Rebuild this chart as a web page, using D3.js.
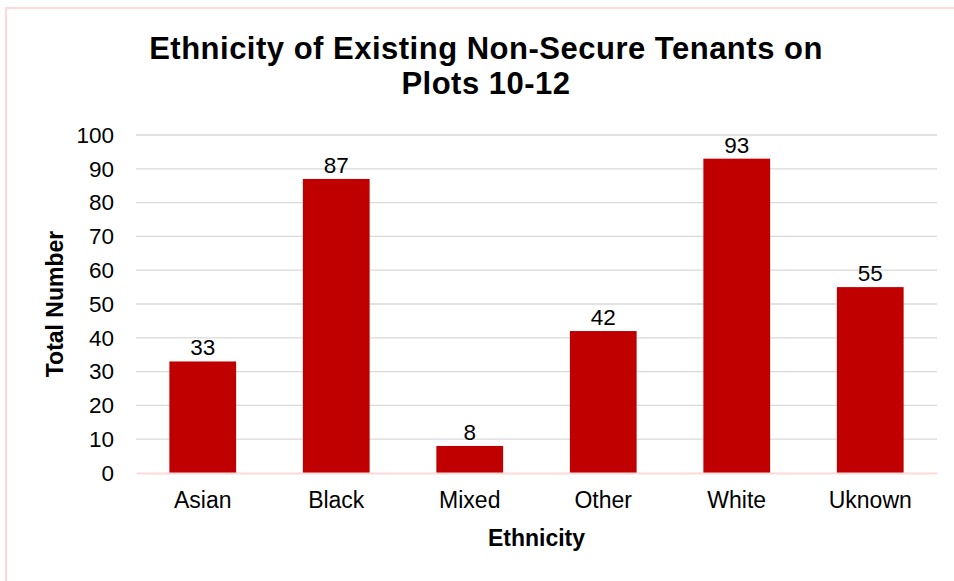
<!DOCTYPE html>
<html>
<head>
<meta charset="utf-8">
<script src="https://cdn.jsdelivr.net/npm/d3@7"></script>
<style>
  html, body { margin: 0; padding: 0; background: #fff; }
  svg { display: block; font-family: Arial, "Liberation Sans", sans-serif; }
</style>
</head>
<body>
<svg id="chart" width="954" height="581"></svg>
<script>
// Tenant counts by ethnicity
const categories = ["Asian", "Black", "Mixed", "Other", "White", "Uknown"];
const values = [33, 87, 8, 42, 93, 55];
const yTicks = [0, 10, 20, 30, 40, 50, 60, 70, 80, 90, 100];
const titleLines = ["Ethnicity of Existing Non-Secure Tenants on", "Plots 10-12"];

const svg = d3.select("#chart");
const W = 954, H = 581;
const margin = { left: 136, right: 17, top: 135, bottom: 108 };
const FONT = "Arial, 'Liberation Sans', sans-serif";

// Chart frame
svg.append("rect")
  .attr("x", 6).attr("y", 8)
  .attr("width", W + 20).attr("height", H + 20)
  .attr("fill", "#fff")
  .attr("stroke", "#ffd9d9").attr("stroke-width", 2);

const x = d3.scaleBand()
  .domain(categories)
  .range([margin.left, W - margin.right])
  .paddingInner(0.5).paddingOuter(0.25);

const y = d3.scaleLinear()
  .domain([0, 100])
  .range([H - margin.bottom, margin.top]);

// Gridlines
svg.append("g")
  .selectAll("line")
  .data(yTicks.filter(d => d > 0))
  .join("line")
  .attr("x1", margin.left).attr("x2", W - margin.right)
  .attr("y1", d => y(d)).attr("y2", d => y(d))
  .attr("stroke", "#d9d9d9").attr("stroke-width", 1.3);

// Y axis labels
const yAxis = d3.axisLeft(y).tickValues(yTicks).tickSize(0).tickPadding(22);
svg.append("g")
  .attr("transform", `translate(${margin.left},0)`)
  .call(yAxis)
  .call(g => g.select(".domain").remove())
  .selectAll("text")
  .attr("font-size", 22.5)
  .attr("font-family", FONT)
  .attr("fill", "#000");

// Bars
svg.append("g")
  .selectAll("rect")
  .data(values)
  .join("rect")
  .attr("x", (d, i) => x(categories[i]))
  .attr("y", d => y(d))
  .attr("width", x.bandwidth())
  .attr("height", d => y(0) - y(d))
  .attr("fill", "#c00000");

// Value labels
svg.append("g")
  .selectAll("text")
  .data(values)
  .join("text")
  .attr("x", (d, i) => x(categories[i]) + x.bandwidth() / 2)
  .attr("y", d => y(d) - 6)
  .attr("text-anchor", "middle")
  .attr("font-size", 22.5)
  .attr("fill", "#000")
  .text(d => d);

// X axis
const xAxis = d3.axisBottom(x).tickSize(0).tickPadding(19);
svg.append("g")
  .attr("transform", `translate(0,${y(0)})`)
  .call(xAxis)
  .call(g => g.select(".domain").attr("stroke", "#ffd9d9").attr("stroke-width", 2))
  .selectAll("text")
  .attr("font-size", 23)
  .attr("font-family", FONT)
  .attr("fill", "#000");

// Title
svg.append("text")
  .attr("x", 486).attr("y", 59)
  .attr("text-anchor", "middle")
  .attr("font-size", 31).attr("font-weight", "bold")
  .attr("letter-spacing", 0.5)
  .selectAll("tspan")
  .data(titleLines)
  .join("tspan")
  .attr("x", 486)
  .attr("dy", (d, i) => i === 0 ? 0 : 35)
  .text(d => d);

// Axis titles
svg.append("text")
  .attr("x", (margin.left + W - margin.right) / 2)
  .attr("y", 546)
  .attr("text-anchor", "middle")
  .attr("font-size", 23).attr("font-weight", "bold")
  .text("Ethnicity");

svg.append("text")
  .attr("transform", `translate(63,${(margin.top + H - margin.bottom) / 2}) rotate(-90)`)
  .attr("text-anchor", "middle")
  .attr("font-size", 23).attr("font-weight", "bold")
  .text("Total Number");
</script>
</body>
</html>
